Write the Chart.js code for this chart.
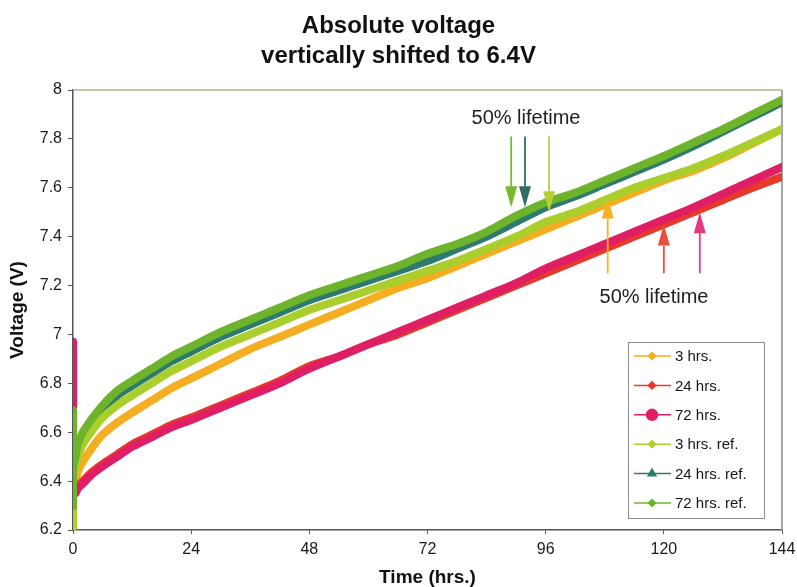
<!DOCTYPE html>
<html>
<head>
<meta charset="utf-8">
<title>Absolute voltage</title>
<script src="https://cdn.jsdelivr.net/npm/chart.js@4.4.0/dist/chart.umd.min.js"></script>
<style>
  html, body { margin: 0; padding: 0; background: #fff; }
</style>
</head>
<body>
<canvas id="voltChart" width="797" height="587"></canvas>
<script>
// Absolute voltage curves, shifted to 6.4V, with the 50% lifetime marks

// Time axis (hrs.) - first three points are the spike at t = 0
const hours = [0, 0, 0, 0.5, 1, 2, 4, 6, 9, 12, 16, 20, 24, 30, 36, 42, 48, 54, 60, 66, 72,
  78, 84, 90, 96, 102, 108, 114, 120, 126, 132, 138, 144];

// Voltage (V) per series
const v3h = [6.75, 6.28, 6.38, 6.40, 6.44, 6.48, 6.54, 6.59, 6.64, 6.68, 6.73, 6.78, 6.82,
  6.88, 6.94, 6.99, 7.04, 7.09, 7.14, 7.19, 7.23, 7.28, 7.33, 7.38, 7.43, 7.48, 7.53, 7.58,
  7.63, 7.67, 7.72, 7.78, 7.84];
const v24h = [6.30, 6.22, 6.34, 6.36, 6.38, 6.40, 6.44, 6.47, 6.51, 6.55, 6.59, 6.63, 6.66,
  6.71, 6.76, 6.81, 6.87, 6.91, 6.96, 7.00, 7.05, 7.10, 7.15, 7.20, 7.25, 7.30, 7.35, 7.40,
  7.45, 7.50, 7.55, 7.60, 7.645];
const v72h = [6.97, 6.30, 6.35, 6.35, 6.37, 6.39, 6.43, 6.46, 6.50, 6.54, 6.58, 6.62, 6.65,
  6.70, 6.75, 6.80, 6.86, 6.91, 6.96, 7.01, 7.06, 7.11, 7.16, 7.21, 7.27, 7.32, 7.37, 7.42,
  7.47, 7.52, 7.575, 7.63, 7.685];
const v3hRef = [6.60, 6.21, 6.42, 6.46, 6.50, 6.55, 6.61, 6.66, 6.71, 6.75, 6.80, 6.85, 6.89,
  6.95, 7.00, 7.05, 7.10, 7.14, 7.18, 7.22, 7.26, 7.30, 7.35, 7.40, 7.46, 7.50, 7.55, 7.60,
  7.64, 7.68, 7.73, 7.785, 7.84];
const v24hRef = [6.62, 6.31, 6.44, 6.48, 6.53, 6.58, 6.64, 6.69, 6.75, 6.79, 6.84, 6.89, 6.93,
  6.99, 7.04, 7.09, 7.14, 7.18, 7.22, 7.26, 7.30, 7.35, 7.40, 7.46, 7.52, 7.565, 7.615, 7.665,
  7.715, 7.77, 7.83, 7.89, 7.95];
const v72hRef = [6.69, 6.30, 6.45, 6.50, 6.55, 6.60, 6.66, 6.71, 6.77, 6.81, 6.86, 6.91, 6.95,
  7.01, 7.06, 7.11, 7.16, 7.20, 7.24, 7.28, 7.33, 7.37, 7.42, 7.485, 7.54, 7.58, 7.63, 7.68,
  7.73, 7.785, 7.84, 7.90, 7.96];

const seriesLabels = ['3 hrs.', '24 hrs.', '72 hrs.', '3 hrs. ref.', '24 hrs. ref.', '72 hrs. ref.'];

// Tick labels
const xTicks = [0, 24, 48, 72, 96, 120, 144];
const yTicks = [6.2, 6.4, 6.6, 6.8, 7, 7.2, 7.4, 7.6, 7.8, 8];

// 50% lifetime marks (hrs., from V, to V)
const downArrows = [
  { t: 89.0, from: 7.81, to: 7.52, color: '#7ab82e' },
  { t: 91.8, from: 7.81, to: 7.52, color: '#2f6e60' },
  { t: 96.7, from: 7.81, to: 7.50, color: '#b3d034' }
];
const upArrows = [
  { t: 108.6, from: 7.25, to: 7.56, color: '#f6b125' },
  { t: 120.0, from: 7.25, to: 7.45, color: '#e8503c' },
  { t: 127.3, from: 7.25, to: 7.50, color: '#e23a7c' }
];
const notes = [
  { t: 92, v: 7.885, text: '50% lifetime' },
  { t: 118, v: 7.15, text: '50% lifetime' }
];

const FONT = "'Liberation Sans', Arial, Helvetica, sans-serif";

function toPoints(vals) {
  return hours.map((h, i) => ({ x: h, y: vals[i] }));
}

function makeSet(i, vals, color, marker, markerSize, order) {
  return {
    label: seriesLabels[i],
    data: toPoints(vals),
    borderColor: color,
    backgroundColor: color,
    borderWidth: 8,
    pointRadius: 0,
    tension: 0.3,
    borderCapStyle: 'round',
    borderJoinStyle: 'round',
    pointStyle: marker,
    markerSize,
    order
  };
}

const datasets = [
  makeSet(0, v3h, '#f5ae22', 'rectRot', 3.5, 6),
  makeSet(1, v24h, '#e8382a', 'rectRot', 3.5, 5),
  makeSet(2, v72h, '#e01e66', 'circle', 5.5, 2),
  makeSet(3, v3hRef, '#aacf2c', 'rectRot', 3.5, 3),
  makeSet(4, v24hRef, '#2e7a6c', 'triangle', 4.5, 4),
  makeSet(5, v72hRef, '#6db42c', 'rectRot', 3.5, 1)
];

// Top and right border of the plot area
const frame = {
  id: 'frame',
  beforeDatasetsDraw(chart) {
    const { ctx, chartArea: a } = chart;
    ctx.save();
    ctx.lineWidth = 1.5;
    ctx.strokeStyle = '#b9b192';
    ctx.beginPath();
    ctx.moveTo(a.left, a.top);
    ctx.lineTo(a.right, a.top);
    ctx.stroke();
    ctx.strokeStyle = '#8a8a8a';
    ctx.beginPath();
    ctx.moveTo(a.right, a.top);
    ctx.lineTo(a.right, a.bottom);
    ctx.stroke();
    ctx.restore();
  }
};

function drawArrow(ctx, x, y0, y1, color) {
  const dir = y1 > y0 ? 1 : -1;
  const head = 21;
  ctx.strokeStyle = color;
  ctx.fillStyle = color;
  ctx.lineWidth = 1.8;
  ctx.beginPath();
  ctx.moveTo(x, y0);
  ctx.lineTo(x, y1 - dir * head);
  ctx.stroke();
  ctx.beginPath();
  ctx.moveTo(x, y1);
  ctx.lineTo(x - 6, y1 - dir * head);
  ctx.lineTo(x + 6, y1 - dir * head);
  ctx.closePath();
  ctx.fill();
}

// Lifetime arrows and their notes
const lifetime = {
  id: 'lifetime',
  afterDatasetsDraw(chart) {
    const { ctx, scales: { x, y } } = chart;
    ctx.save();
    downArrows.concat(upArrows).forEach((a) => {
      drawArrow(ctx, x.getPixelForValue(a.t), y.getPixelForValue(a.from), y.getPixelForValue(a.to), a.color);
    });
    ctx.fillStyle = '#1e1e1e';
    ctx.font = '20px ' + FONT;
    ctx.textAlign = 'center';
    ctx.textBaseline = 'middle';
    notes.forEach((n) => ctx.fillText(n.text, x.getPixelForValue(n.t), y.getPixelForValue(n.v)));
    ctx.restore();
  }
};

// Legend box with line and marker, as in the spreadsheet chart
const lineLegend = {
  id: 'lineLegend',
  afterDraw(chart) {
    const { ctx } = chart;
    const box = { left: 628, top: 342, right: 764, bottom: 518 };
    ctx.save();
    ctx.fillStyle = '#fff';
    ctx.fillRect(box.left, box.top, box.right - box.left, box.bottom - box.top);
    ctx.strokeStyle = '#8c8c8c';
    ctx.lineWidth = 1;
    ctx.strokeRect(box.left + 0.5, box.top + 0.5, box.right - box.left, box.bottom - box.top);
    ctx.font = '15px ' + FONT;
    ctx.textBaseline = 'middle';
    ctx.textAlign = 'left';
    chart.data.datasets.forEach((ds, i) => {
      const yy = 356 + i * 29.4;
      ctx.strokeStyle = ds.borderColor;
      ctx.fillStyle = ds.borderColor;
      ctx.lineWidth = 1.5;
      ctx.beginPath();
      ctx.moveTo(634, yy);
      ctx.lineTo(671, yy);
      ctx.stroke();
      Chart.helpers.drawPoint(ctx, { pointStyle: ds.pointStyle, radius: ds.markerSize, borderWidth: 1, rotation: 0 }, 652, yy);
      ctx.fillStyle = '#151515';
      ctx.fillText(ds.label, 675, yy + 1);
    });
    ctx.restore();
  }
};

const whiteBg = {
  id: 'whiteBg',
  beforeDraw(chart) {
    const { ctx } = chart;
    ctx.save();
    ctx.fillStyle = '#fff';
    ctx.fillRect(0, 0, chart.width, chart.height);
    ctx.restore();
  }
};

const voltChart = new Chart(document.getElementById('voltChart'), {
  type: 'line',
  data: { datasets },
  options: {
    responsive: false,
    animation: false,
    devicePixelRatio: 1,
    layout: { padding: 0 },
    plugins: {
      legend: { display: false },
      tooltip: { enabled: false },
      title: {
        display: true,
        text: ['Absolute voltage', 'vertically shifted to 6.4V'],
        color: '#111',
        font: { family: FONT, size: 24, weight: 'bold', lineHeight: 1.25 },
        padding: { top: 11, bottom: 19 }
      }
    },
    scales: {
      x: {
        type: 'linear',
        min: 0,
        max: 144,
        afterFit: (s) => {
          s.height = 57;
          s.paddingLeft = 0;
          s.paddingRight = 15;
        },
        afterBuildTicks: (s) => { s.ticks = xTicks.map((v) => ({ value: v })); },
        border: { color: '#555', width: 1.5 },
        grid: { display: true, drawOnChartArea: false, tickLength: 4, color: '#555' },
        ticks: { color: '#1a1a1a', padding: 6, font: { family: FONT, size: 16 }, maxRotation: 0 },
        title: {
          display: true,
          text: 'Time (hrs.)',
          color: '#111',
          font: { family: FONT, size: 19, weight: 'bold', lineHeight: 1 },
          padding: { top: 0, bottom: 0 }
        }
      },
      y: {
        min: 6.2,
        max: 8,
        afterFit: (s) => { s.width = 73; },
        afterBuildTicks: (s) => { s.ticks = yTicks.map((v) => ({ value: v })); },
        border: { color: '#555', width: 1.5 },
        grid: { display: true, drawOnChartArea: false, tickLength: 5, color: '#555' },
        ticks: {
          color: '#1a1a1a',
          padding: 6,
          font: { family: FONT, size: 16 },
          callback: (v) => String(Number(v.toFixed(1)))
        },
        title: {
          display: true,
          text: 'Voltage (V)',
          color: '#111',
          font: { family: FONT, size: 19, weight: 'bold', lineHeight: 1 },
          padding: { top: 8, bottom: 8 }
        }
      }
    }
  },
  plugins: [whiteBg, frame, lifetime, lineLegend]
});
</script>
</body>
</html>
